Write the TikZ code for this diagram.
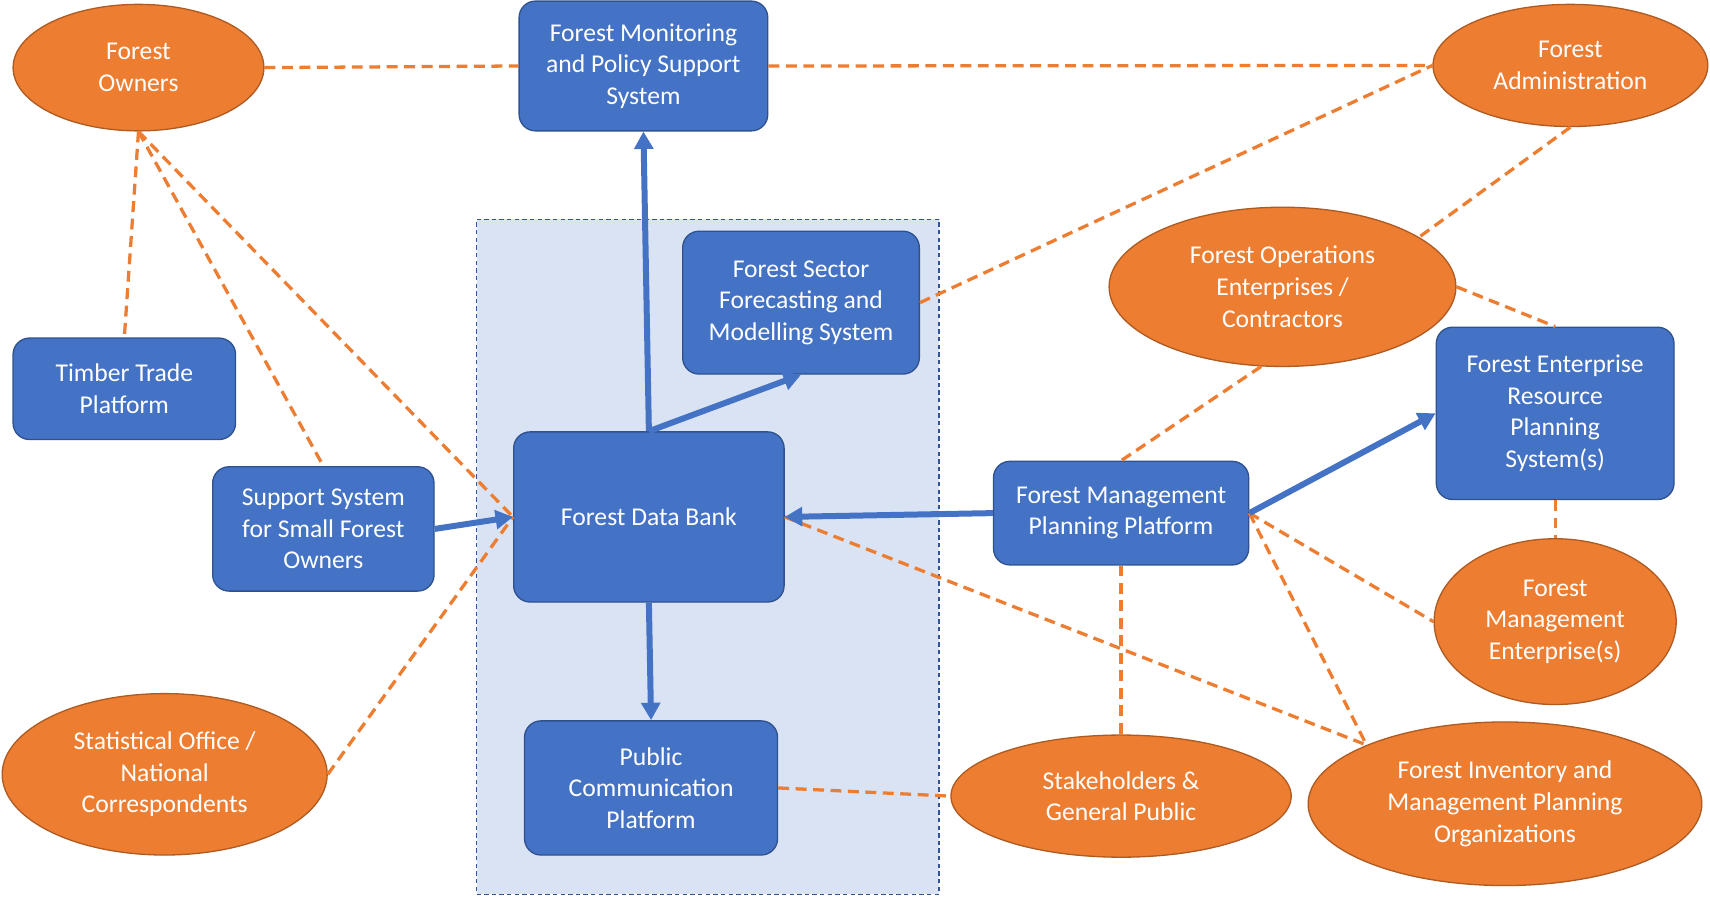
\documentclass[tikz,border=0pt]{standalone}
\usepackage{fontspec}
\setmainfont{Carlito}
\usetikzlibrary{arrows.meta,shapes.geometric}
\definecolor{bluefill}{HTML}{4472C4}
\definecolor{blueedge}{HTML}{2F528F}
\definecolor{orfill}{HTML}{ED7D31}
\definecolor{oredge}{HTML}{AE5A21}
\definecolor{panel}{HTML}{DAE3F3}
\definecolor{paneledge}{HTML}{2F5597}
\begin{document}
\begin{tikzpicture}[x=1pt,y=-1pt,
  lbl/.style={text=white,align=center,inner sep=0pt,font=\fontsize{23.5}{29}\selectfont},
  bluebox/.style={lbl,draw=blueedge,fill=bluefill,rounded corners=15pt,line width=1.2pt},
  orell/.style={lbl,ellipse,draw=oredge,fill=orfill,line width=1.2pt},
  link/.style={draw=orfill,line width=3pt,dash pattern=on 10pt off 6pt},
  flow/.style={draw=bluefill,line width=5.5pt,-{Triangle[length=16pt,width=17pt]}},
  panelbox/.style={draw=paneledge,fill=panel,line width=1.2pt,dash pattern=on 4pt off 3pt}
]
\useasboundingbox (0,0) rectangle (1568,823);
\fill[white] (0,0) rectangle (1568,823);

\node[panelbox,minimum width=424pt,minimum height=619pt,inner sep=0pt] (panel) at (649,510.5) {};

% nodes
\node[orell,minimum width=230pt,minimum height=116pt] (fo) at (127,62) {Forest\\Owners};
\node[bluebox,minimum width=228pt,minimum height=119pt] (fmp) at (590,60.5) {Forest Monitoring\\and Policy Support\\System};
\node[orell,minimum width=252pt,minimum height=112pt] (fa) at (1440,60) {Forest\\Administration};
\node[bluebox,minimum width=217pt,minimum height=131pt] (fsf) at (734.5,277.5) {Forest Sector\\Forecasting and\\Modelling System};
\node[orell,minimum width=318pt,minimum height=146pt] (fops) at (1176,263) {Forest Operations\\Enterprises /\\Contractors};
\node[bluebox,minimum width=204pt,minimum height=93pt] (ttp) at (114,356.5) {Timber Trade\\Platform};
\node[bluebox,minimum width=218pt,minimum height=158pt] (erp) at (1426,379) {Forest Enterprise\\Resource\\Planning\\System(s)};
\node[bluebox,minimum width=203pt,minimum height=114pt] (ss) at (296.5,485) {Support System\\for Small Forest\\Owners};
\node[bluebox,minimum width=248pt,minimum height=156pt] (db) at (595,474) {Forest Data Bank};
\node[bluebox,minimum width=234pt,minimum height=95pt] (fmpp) at (1028,470.5) {Forest Management\\Planning Platform};
\node[orell,minimum width=222pt,minimum height=152pt] (fme) at (1426,570) {Forest\\Management\\Enterprise(s)};
\node[orell,minimum width=298pt,minimum height=148pt] (so) at (151,710) {Statistical Office /\\National\\Correspondents};
\node[bluebox,minimum width=232pt,minimum height=123pt] (pcp) at (597,722.5) {Public\\Communication\\Platform};
\node[orell,minimum width=312pt,minimum height=112pt] (sgp) at (1028,730) {Stakeholders \&\\General Public};
\node[orell,minimum width=361pt,minimum height=150pt] (fi) at (1380,737) {Forest Inventory and\\Management Planning\\Organizations};

% dashed relations
\draw[link] (fo.east) -- (fmp.west);
\draw[link] (fmp.east) -- (fa.west);
\draw[link] (fo.south) -- (ttp.north);
\draw[link] (fo.south) -- (ss.north);
\draw[link] (fo.south) -- (db.west);
\draw[link] (so.east) -- (db.west);
\draw[link] (fsf.east) -- (fa.west);
\draw[link] (fa.south) -- (fops.20);
\draw[link] (fops.east) -- (erp.north);
\draw[link] (fops.-105) -- (fmpp.north);
\draw[link] (erp.south) -- (fme.north);
\draw[link] (fmpp.east) -- (fme.west);
\draw[link] (fmpp.east) -- (fi.157);
\draw[link] (db.east) -- (fi.157);
\draw[link] (fmpp.south) -- (sgp.north);
\draw[link] (pcp.east) -- (sgp.west);

% flows
\draw[flow] (db.north) -- (fmp.south);
\draw[flow] (db.north) -- (fsf.south);
\draw[flow] (db.south) -- (pcp.north);
\draw[flow] (ss.east) -- (db.west);
\draw[flow] (fmpp.west) -- (db.east);
\draw[flow] (fmpp.east) -- (erp.west);
\end{tikzpicture}
\end{document}
